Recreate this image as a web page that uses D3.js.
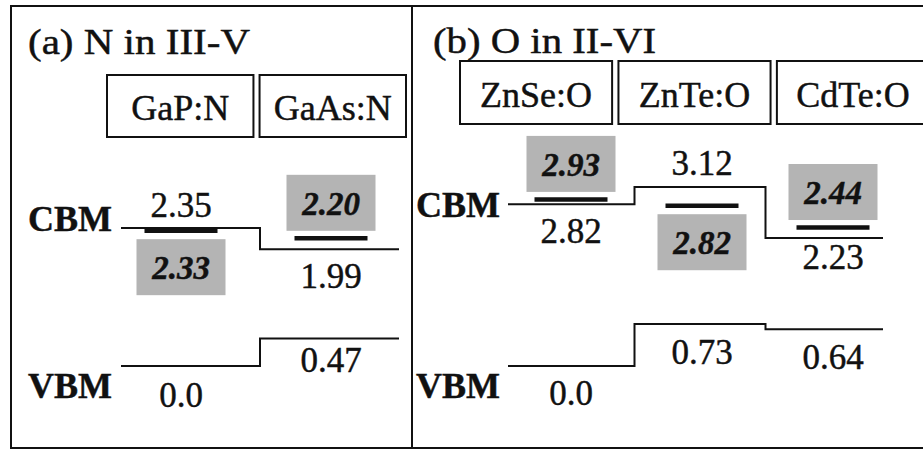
<!DOCTYPE html>
<html>
<head>
<meta charset="utf-8">
<script src="https://cdn.jsdelivr.net/npm/d3@7"></script>
<style>
  html, body { margin: 0; padding: 0; background: #fff; }
  svg { display: block; }
  text { font-family: "Liberation Serif", "Times New Roman", serif; fill: #111; stroke: #111; stroke-width: 0.45px; }
</style>
</head>
<body>
<svg id="chart" width="923" height="449"></svg>
<script>
// Band-edge energies (eV) relative to the host VBM, and isoelectronic impurity levels
const hostsN = ["GaP:N", "GaAs:N"];
const cbmN = [2.35, 1.99];
const vbmN = [0.0, 0.47];
const levelN = [2.33, 2.20];

const hostsO = ["ZnSe:O", "ZnTe:O", "CdTe:O"];
const cbmO = [2.82, 3.12, 2.23];
const vbmO = [0.0, 0.73, 0.64];
const levelO = [2.93, 2.82, 2.44];

const titles = ["(a) N in III-V", "(b) O in II-VI"];
const edgeNames = ["CBM", "VBM"];

const fmt = v => v === 0 ? "0.0" : d3.format(".2f")(v);

// Layout of each panel
const panels = [
  {
    title: titles[0], hosts: hostsN, cbm: cbmN, vbm: vbmN, level: levelN,
    titleX: 28, titleY: 54, titleLen: 222,
    header: [107, 406], headerY: [75, 137],
    cols: [181, 331], lineX: [121, 399],
    yRange: [366, 228], yTop: 2.35,
    edgeX: 28, cbmNameY: 231, vbmNameY: 398,
    cbmDy: [-11, 39], vbmDy: [41, 34], boxSide: ["below", "above"]
  },
  {
    title: titles[1], hosts: hostsO, cbm: cbmO, vbm: vbmO, level: levelO,
    titleX: 433, titleY: 53, titleLen: 223,
    header: [460, 929], headerY: [61, 124],
    cols: [571, 833], lineX: [508, 883],
    yRange: [366, 187], yTop: 3.12,
    edgeX: 416, cbmNameY: 217, vbmNameY: 398,
    cbmDy: [39, -12, 31], vbmDy: [39, 40, 40], boxSide: ["above", "below", "above"]
  }
];

const svg = d3.select("#chart");
svg.append("rect").attr("width", 923).attr("height", 449).attr("fill", "#fff");

// Frame and divider
svg.append("rect")
  .attr("x", 11).attr("y", 6).attr("width", 930).attr("height", 442)
  .attr("fill", "none").attr("stroke", "#111").attr("stroke-width", 2);
svg.append("line")
  .attr("x1", 412).attr("x2", 412).attr("y1", 6).attr("y2", 448)
  .attr("stroke", "#111").attr("stroke-width", 2);

panels.forEach((p, pi) => {
  const g = svg.append("g");
  const y = d3.scaleLinear().domain([0, p.yTop]).range(p.yRange);
  const x = d3.scalePoint().domain(p.hosts).range(p.cols);
  const hx = d3.scaleBand().domain(p.hosts).range(p.header).paddingInner(0.04);

  // Title
  g.append("text")
    .attr("x", p.titleX).attr("y", p.titleY)
    .attr("font-size", 36)
    .attr("textLength", p.titleLen).attr("lengthAdjust", "spacingAndGlyphs")
    .text(p.title);

  // Host name boxes
  const hdr = g.selectAll(".hdr").data(p.hosts).join("g");
  hdr.append("rect")
    .attr("x", d => hx(d)).attr("y", p.headerY[0])
    .attr("width", hx.bandwidth()).attr("height", p.headerY[1] - p.headerY[0])
    .attr("fill", "none").attr("stroke", "#111").attr("stroke-width", 2);
  hdr.append("text")
    .attr("x", d => hx(d) + hx.bandwidth() / 2)
    .attr("y", p.headerY[0] + (p.headerY[1] - p.headerY[0]) / 2 + 14)
    .attr("text-anchor", "middle").attr("font-size", 36)
    .text(d => d);

  // Edge names
  g.append("text").attr("x", p.edgeX).attr("y", p.cbmNameY)
    .attr("font-size", 36).attr("font-weight", "bold").text(edgeNames[0]);
  g.append("text").attr("x", p.edgeX).attr("y", p.vbmNameY)
    .attr("font-size", 36).attr("font-weight", "bold").text(edgeNames[1]);

  // Step lines for CBM and VBM
  const steps = vals => {
    const pts = [[p.lineX[0], vals[0]]];
    for (let i = 1; i < vals.length; i++) {
      pts.push([(x(p.hosts[i - 1]) + x(p.hosts[i])) / 2 + (pi === 0 ? 4 : -2), vals[i]]);
    }
    pts.push([p.lineX[1], vals[vals.length - 1]]);
    return pts;
  };
  const line = d3.line().x(d => d[0]).y(d => y(d[1])).curve(d3.curveStepAfter);
  [p.cbm, p.vbm].forEach(vals => {
    g.append("path").attr("d", line(steps(vals)))
      .attr("fill", "none").attr("stroke", "#111").attr("stroke-width", 2);
  });

  // Band-edge value labels
  p.hosts.forEach((h, i) => {
    g.append("text").attr("x", x(h)).attr("y", y(p.cbm[i]) + p.cbmDy[i])
      .attr("text-anchor", "middle").attr("font-size", 35).text(fmt(p.cbm[i]));
    g.append("text").attr("x", x(h)).attr("y", y(p.vbm[i]) + p.vbmDy[i])
      .attr("text-anchor", "middle").attr("font-size", 35).text(fmt(p.vbm[i]));
  });

  // Impurity levels with shaded value boxes
  const bw = 73, boxW = 89, boxH = 56;
  p.hosts.forEach((h, i) => {
    const ly = y(p.level[i]);
    g.append("line")
      .attr("x1", x(h) - bw / 2).attr("x2", x(h) + bw / 2)
      .attr("y1", ly + 1.5).attr("y2", ly + 1.5)
      .attr("stroke", "#111").attr("stroke-width", 4.5);
    const top = p.boxSide[i] === "above" ? ly - 6 - boxH : ly + 10;
    g.append("rect")
      .attr("x", x(h) - boxW / 2).attr("y", top)
      .attr("width", boxW).attr("height", boxH)
      .attr("fill", "#b4b4b4");
    g.append("text")
      .attr("x", x(h)).attr("y", top + 40)
      .attr("text-anchor", "middle").attr("font-size", 33)
      .attr("font-weight", "bold").attr("font-style", "italic")
      .text(fmt(p.level[i]));
  });
});
</script>
</body>
</html>
